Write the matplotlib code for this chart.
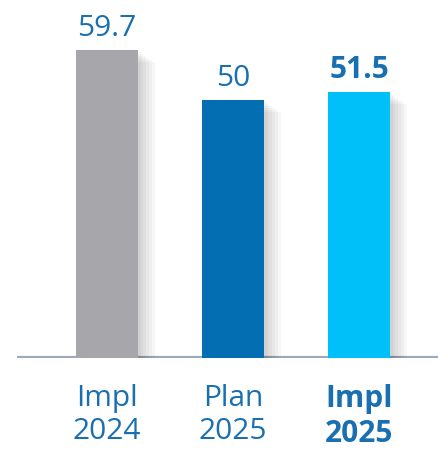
import matplotlib.pyplot as plt
import matplotlib.patheffects as pe

categories = ["Impl\n2024", "Plan\n2025", "Impl\n2025"]
values = [59.7, 50, 51.5]
value_labels = ["59.7", "50", "51.5"]
colors = ["#a7a7ab", "#036eb2", "#00c0fa"]
text_blue = "#1a6fb0"

plt.rcParams['font.family'] = ['Open Sans', 'DejaVu Sans']

fig = plt.figure(figsize=(4.39, 4.52), dpi=100)
ax = fig.add_axes([17 / 439, 93 / 452, 422 / 439, 359 / 452])

x = list(range(len(categories)))

# soft drop shadow built from a few faint offset copies
shadow = [pe.SimplePatchShadow(offset=(o, -o * 0.7), shadow_rgbFace="black", alpha=0.03)
          for o in (2, 4, 6, 8, 10, 12)] + [pe.Normal()]

bars = ax.bar(x, values, width=0.49, color=colors, zorder=3)
for b in bars:
    b.set_path_effects(shadow)

ax.axhline(0, color="#9eaab8", lw=3, zorder=2)

for xi, v, lab in zip(x, values, value_labels):
    ax.annotate(lab, (xi, v), xytext=(0, 6), textcoords="offset points",
                ha="center", va="bottom", fontsize=21.5, color=text_blue,
                fontweight="bold" if xi == 2 else "normal")

ax.set_xlim(-0.714, 2.635)
ax.set_ylim(0, 69.6)
ax.set_xticks(x)
ax.set_xticklabels(categories, fontsize=21.5, color=text_blue, linespacing=1.2)
ax.get_xticklabels()[2].set_fontweight("bold")
ax.tick_params(axis="x", length=0, pad=18)
ax.set_yticks([])
for s in ax.spines.values():
    s.set_visible(False)

fig.savefig("out.png", dpi=100)
